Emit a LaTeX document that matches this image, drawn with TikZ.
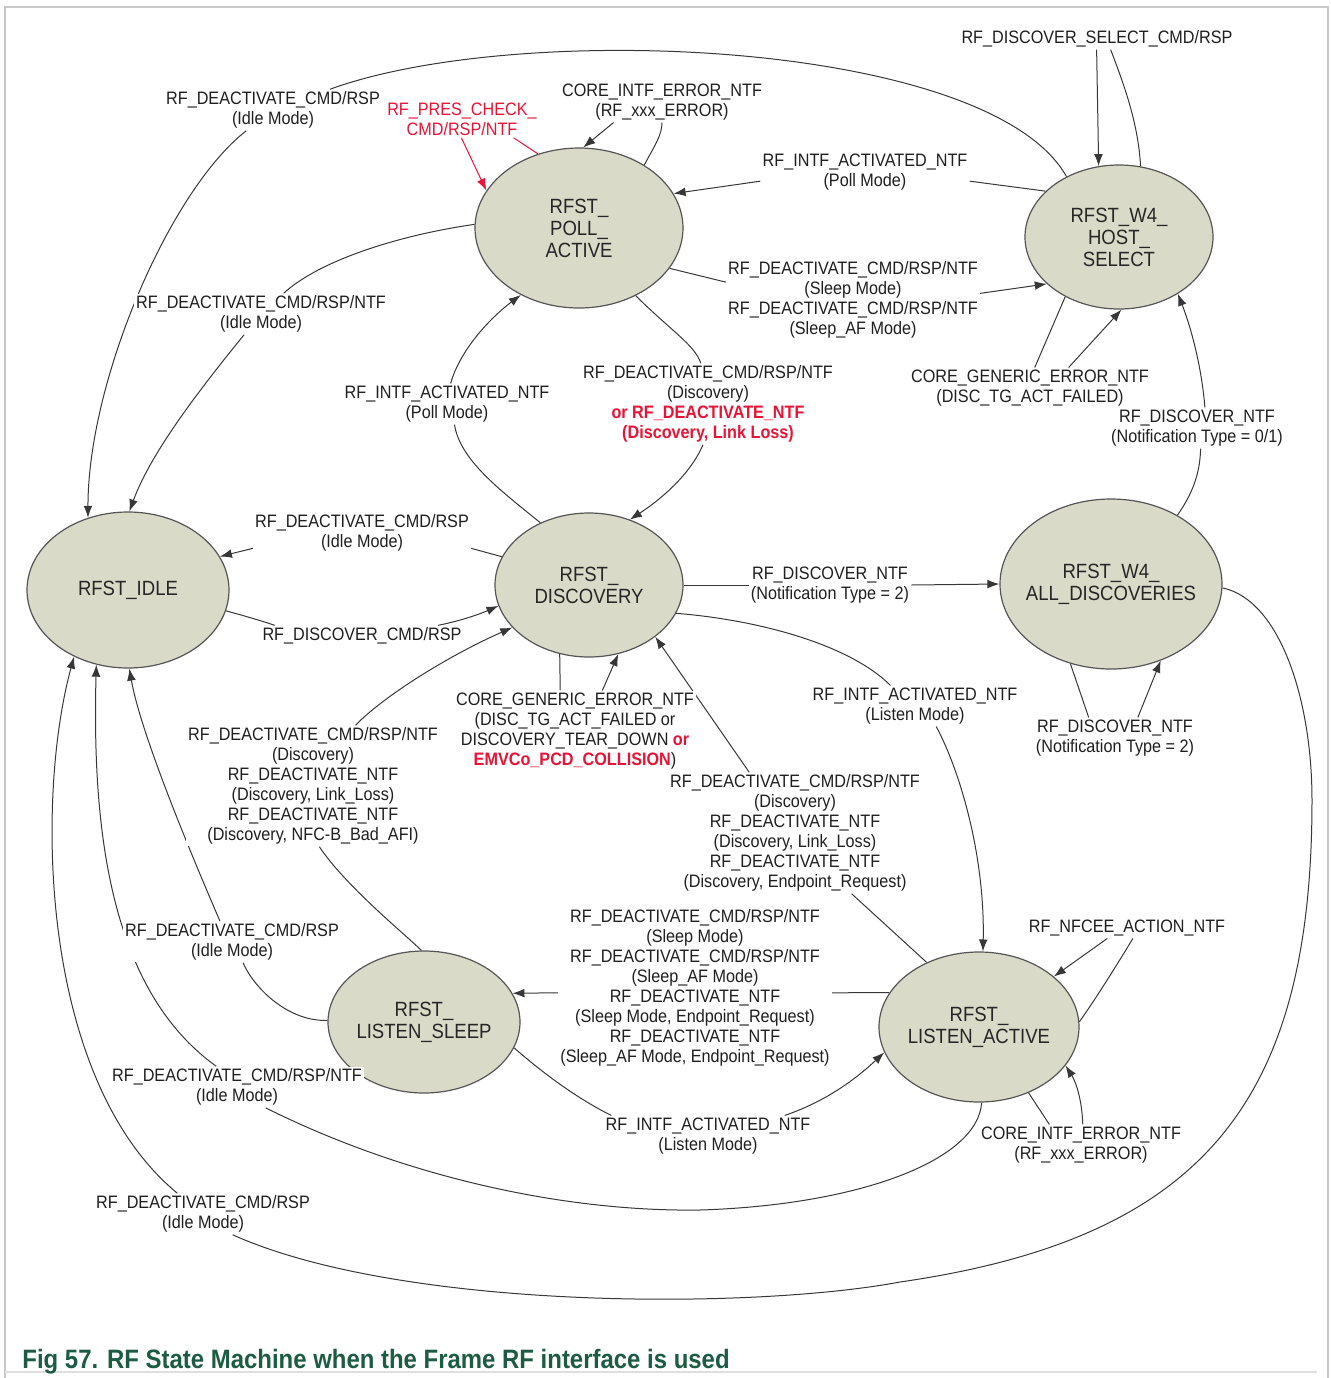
\documentclass[tikz,border=0pt]{standalone}
\usepackage{fontspec}
\setmainfont{Liberation Sans}[FakeStretch=0.9]
\usetikzlibrary{shapes.geometric,arrows.meta}
\definecolor{statefill}{RGB}{218,218,200}
\definecolor{stateline}{RGB}{85,85,85}
\definecolor{wirecol}{RGB}{55,55,55}
\definecolor{alert}{RGB}{232,20,55}
\definecolor{captiongreen}{RGB}{28,92,66}
\definecolor{framegray}{RGB}{200,200,200}
\pgfdeclarelayer{wires}
\pgfsetlayers{wires,main}

\begin{document}
\begin{tikzpicture}[x=0.5pt,y=-0.5pt,
  state/.style={ellipse, draw=stateline, line width=0.6pt, fill=statefill,
    inner sep=0pt, inner xsep=-12pt, align=center,
    font=\fontsize{10.3}{11}\selectfont, text=black!85},
  lbl/.style={fill=white, inner sep=1pt, align=center,
    font=\fontsize{9}{10}\selectfont, text=black!88},
  wire/.style={draw=wirecol, line width=0.5pt},
  arr/.style={wire, -{Latex[length=6pt,width=4.4pt]}},
  redwire/.style={draw=alert, line width=0.5pt},
  redarr/.style={redwire, -{Latex[length=6pt,width=4.4pt]}},
]
\useasboundingbox (0,0) rectangle (1330,1378);

% page frame
\draw[framegray, line width=1pt] (5,1378) -- (5,7) -- (1328,7) -- (1328,1378);
\draw[framegray!60, line width=0.8pt] (5,1372) -- (1317,1372);

% states
\node[state, minimum width=104pt, minimum height=80pt] (PA) at (579,228) {RFST\_\\POLL\_\\ACTIVE};
\node[state, minimum width=94pt,  minimum height=72pt] (HS) at (1119,237) {RFST\_W4\_\\HOST\_\\SELECT};
\node[state, minimum width=101pt, minimum height=78pt] (ID) at (128,590) {RFST\_IDLE};
\node[state, minimum width=94pt,  minimum height=72pt] (DI) at (589,585) {RFST\_\\DISCOVERY};
\node[state, minimum width=111pt, minimum height=85pt] (AD) at (1111,584) {RFST\_W4\_\\ALL\_DISCOVERIES};
\node[state, minimum width=96pt,  minimum height=71pt] (LS) at (424,1022) {RFST\_\\LISTEN\_SLEEP};
\node[state, minimum width=100pt, minimum height=75pt] (LA) at (979,1027) {RFST\_\\LISTEN\_ACTIVE};

% transition labels
\node[lbl] (L1) at (273,110) {RF\_DEACTIVATE\_CMD/RSP\\(Idle Mode)};
\node[lbl] (L2) at (261,314) {RF\_DEACTIVATE\_CMD/RSP/NTF\\(Idle Mode)};
\node[lbl] (L3) at (662,102) {CORE\_INTF\_ERROR\_NTF\\(RF\_xxx\_ERROR)};
\node[lbl, text=alert] (L4) at (462,119) {RF\_PRES\_CHECK\_\\CMD/RSP/NTF};
\node[lbl] (L5) at (865,172) {RF\_INTF\_ACTIVATED\_NTF\\(Poll Mode)};
\node[lbl] (L6) at (853,300) {RF\_DEACTIVATE\_CMD/RSP/NTF\\(Sleep Mode)\\RF\_DEACTIVATE\_CMD/RSP/NTF\\(Sleep\_AF Mode)};
\node[lbl] (L7) at (1097,39) {RF\_DISCOVER\_SELECT\_CMD/RSP};
\node[lbl] (L8) at (1030,388) {CORE\_GENERIC\_ERROR\_NTF\\(DISC\_TG\_ACT\_FAILED)};
\node[lbl] (L9) at (1197,428) {RF\_DISCOVER\_NTF\\(Notification Type = 0/1)};
\node[lbl] (L10) at (708,404) {RF\_DEACTIVATE\_CMD/RSP/NTF\\(Discovery)\\{\color{alert}\bfseries or RF\_DEACTIVATE\_NTF}\\{\color{alert}\bfseries (Discovery, Link Loss)}};
\node[lbl] (L11) at (447,404) {RF\_INTF\_ACTIVATED\_NTF\\(Poll Mode)};
\node[lbl] (L12) at (362,533) {RF\_DEACTIVATE\_CMD/RSP\\(Idle Mode)};
\node[lbl] (L13) at (362,636) {RF\_DISCOVER\_CMD/RSP};
\node[lbl] (L14) at (830,585) {RF\_DISCOVER\_NTF\\(Notification Type = 2)};
\node[lbl] (L15) at (1115,738) {RF\_DISCOVER\_NTF\\(Notification Type = 2)};
\node[lbl] (L16) at (575,731) {CORE\_GENERIC\_ERROR\_NTF\\(DISC\_TG\_ACT\_FAILED or\\DISCOVERY\_TEAR\_DOWN {\color{alert}\bfseries or}\\{\color{alert}\bfseries EMVCo\_PCD\_COLLISION})};
\node[lbl] (L17) at (795,833) {RF\_DEACTIVATE\_CMD/RSP/NTF\\(Discovery)\\RF\_DEACTIVATE\_NTF\\(Discovery, Link\_Loss)\\RF\_DEACTIVATE\_NTF\\(Discovery, Endpoint\_Request)};
\node[lbl] (L18) at (915,706) {RF\_INTF\_ACTIVATED\_NTF\\(Listen Mode)};
\node[lbl] (L19) at (313,786) {RF\_DEACTIVATE\_CMD/RSP/NTF\\(Discovery)\\RF\_DEACTIVATE\_NTF\\(Discovery, Link\_Loss)\\RF\_DEACTIVATE\_NTF\\(Discovery, NFC-B\_Bad\_AFI)};
\node[lbl] (L20) at (232,942) {RF\_DEACTIVATE\_CMD/RSP\\(Idle Mode)};
\node[lbl] (L21) at (237,1087) {RF\_DEACTIVATE\_CMD/RSP/NTF\\(Idle Mode)};
\node[lbl] (L22) at (695,988) {RF\_DEACTIVATE\_CMD/RSP/NTF\\(Sleep Mode)\\RF\_DEACTIVATE\_CMD/RSP/NTF\\(Sleep\_AF Mode)\\RF\_DEACTIVATE\_NTF\\(Sleep Mode, Endpoint\_Request)\\RF\_DEACTIVATE\_NTF\\(Sleep\_AF Mode, Endpoint\_Request)};
\node[lbl] (L23) at (708,1136) {RF\_INTF\_ACTIVATED\_NTF\\(Listen Mode)};
\node[lbl] (L24) at (1127,928) {RF\_NFCEE\_ACTION\_NTF};
\node[lbl] (L25) at (1081,1145) {CORE\_INTF\_ERROR\_NTF\\(RF\_xxx\_ERROR)};
\node[lbl] (L26) at (203,1214) {RF\_DEACTIVATE\_CMD/RSP\\(Idle Mode)};

% caption
\node[anchor=base west, inner sep=0pt, font=\fontsize{13.3}{16}\selectfont\bfseries,
  text=captiongreen] (caption) at (22,1368) {Fig 57. RF State Machine when the Frame RF interface is used};

% transitions, drawn beneath the nodes
\begin{pgfonlayer}{wires}
% W4_HOST_SELECT -> IDLE
\draw[wire] (HS.131) .. controls (990,40) and (520,20) .. (L1);
\draw[arr] (L1) .. controls (170,190) and (88,380) .. (ID.119);
% POLL_ACTIVE -> IDLE
\draw[wire] (PA.178) .. controls (400,235) and (320,260) .. (L2);
\draw[arr] (L2) .. controls (195,395) and (150,455) .. (ID.89);
% POLL_ACTIVE loops
\draw[wire] (PA.44) .. controls (655,145) and (662,135) .. (L3);
\draw[arr] (L3.203) -- (PA.87);
\draw[redwire] (PA.119) -- (L4.-20);
\draw[redarr] (L4.-92) -- (PA.158);
% W4_HOST_SELECT <-> POLL_ACTIVE
\draw[wire] (HS.148) -- (L5.-5);
\draw[arr] (L5.185) -- (PA.20);
\draw[wire] (PA.-24) -- (L6.172);
\draw[arr] (L6.3) -- (HS.213);
% W4_HOST_SELECT loops
\draw[wire] (HS.73) .. controls (1138,120) and (1122,80) .. (L7.-38);
\draw[arr] (L7.-92) -- (HS.106);
\draw[wire] (HS.228) -- (L8.77);
\draw[arr] (L8.28) -- (HS.-88);
% W4_ALL_DISCOVERIES -> W4_HOST_SELECT
\draw[wire] (AD.46) .. controls (1195,490) and (1200,470) .. (L9.-80);
\draw[arr] (L9.69) .. controls (1202,370) and (1192,330) .. (HS.-44);
% POLL_ACTIVE <-> DISCOVERY
\draw[wire] (PA.-50) .. controls (670,330) and (695,345) .. (L10.100);
\draw[arr] (L10.-97) .. controls (690,475) and (660,500) .. (DI.58);
\draw[wire] (DI.128) .. controls (500,490) and (460,460) .. (L11.-70);
\draw[arr] (L11.80) .. controls (460,350) and (490,318) .. (PA.229);
% DISCOVERY <-> IDLE
\draw[wire] (DI.162) -- (L12.-8);
\draw[arr] (L12.188) -- (ID.20);
\draw[wire] (ID.-12) .. controls (245,616) and (262,621) .. (L13.173);
\draw[arr] (L13.8) .. controls (460,621) and (480,614) .. (DI.193);
% DISCOVERY -> W4_ALL_DISCOVERIES
\draw[wire] (DI.east) -- (L14.west);
\draw[arr] (L14.east) -- (AD.west);
% W4_ALL_DISCOVERIES loop
\draw[wire] (AD.243) -- (L15.142);
\draw[arr] (L15.42) -- (AD.-57);
% DISCOVERY loop
\draw[wire] (DI.247) -- (L16.110);
\draw[arr] (L16.56) -- (DI.-67);
% LISTEN_ACTIVE <-> DISCOVERY
\draw[wire] (LA.129) -- (L17.-47);
\draw[arr] (L17.127) -- (DI.-38);
\draw[wire] (DI.-18) .. controls (760,620) and (850,645) .. (L18.140);
\draw[arr] (L18.-44) .. controls (962,775) and (985,860) .. (LA.87);
% LISTEN_SLEEP -> DISCOVERY
\draw[wire] (LS.92) .. controls (400,930) and (345,885) .. (L19.-84);
\draw[arr] (L19.55) .. controls (385,695) and (450,655) .. (DI.209);
% LISTEN_SLEEP -> IDLE
\draw[wire] (LS.179) .. controls (290,1022) and (255,990) .. (L20.-62);
\draw[arr] (L20.120) .. controls (185,840) and (140,730) .. (ID.-89);
% LISTEN_ACTIVE -> IDLE
\draw[wire] (LA.-88) .. controls (978,1160) and (860,1205) .. (700,1210)
  .. controls (560,1212) and (400,1175) .. (L21.-36);
\draw[arr] (L21.135) .. controls (110,990) and (92,830) .. (ID.247);
% LISTEN_ACTIVE <-> LISTEN_SLEEP
\draw[wire] (LA.159) -- (L22.-2);
\draw[arr] (L22.182) -- (LS.18);
\draw[wire] (LS.-16) .. controls (545,1075) and (580,1100) .. (L23.168);
\draw[arr] (L23.15) .. controls (830,1100) and (860,1075) .. (LA.195);
% LISTEN_ACTIVE loops
\draw[wire] (LA.3) .. controls (1095,1000) and (1120,960) .. (L24.-61);
\draw[arr] (L24.208) -- (LA.34);
\draw[wire] (LA.-53) -- (L25.147);
\draw[arr] (L25.85) .. controls (1082,1100) and (1076,1082) .. (LA.-24);
% W4_ALL_DISCOVERIES -> IDLE
\draw[wire] (AD.-2) .. controls (1280,600) and (1312,700) .. (1312,800)
  .. controls (1312,1100) and (1205,1238) .. (900,1282)
  .. controls (750,1310) and (400,1310) .. (L26.-35);
\draw[arr] (L26.141) .. controls (40,1080) and (35,800) .. (ID.231);
\end{pgfonlayer}
\end{tikzpicture}
\end{document}
